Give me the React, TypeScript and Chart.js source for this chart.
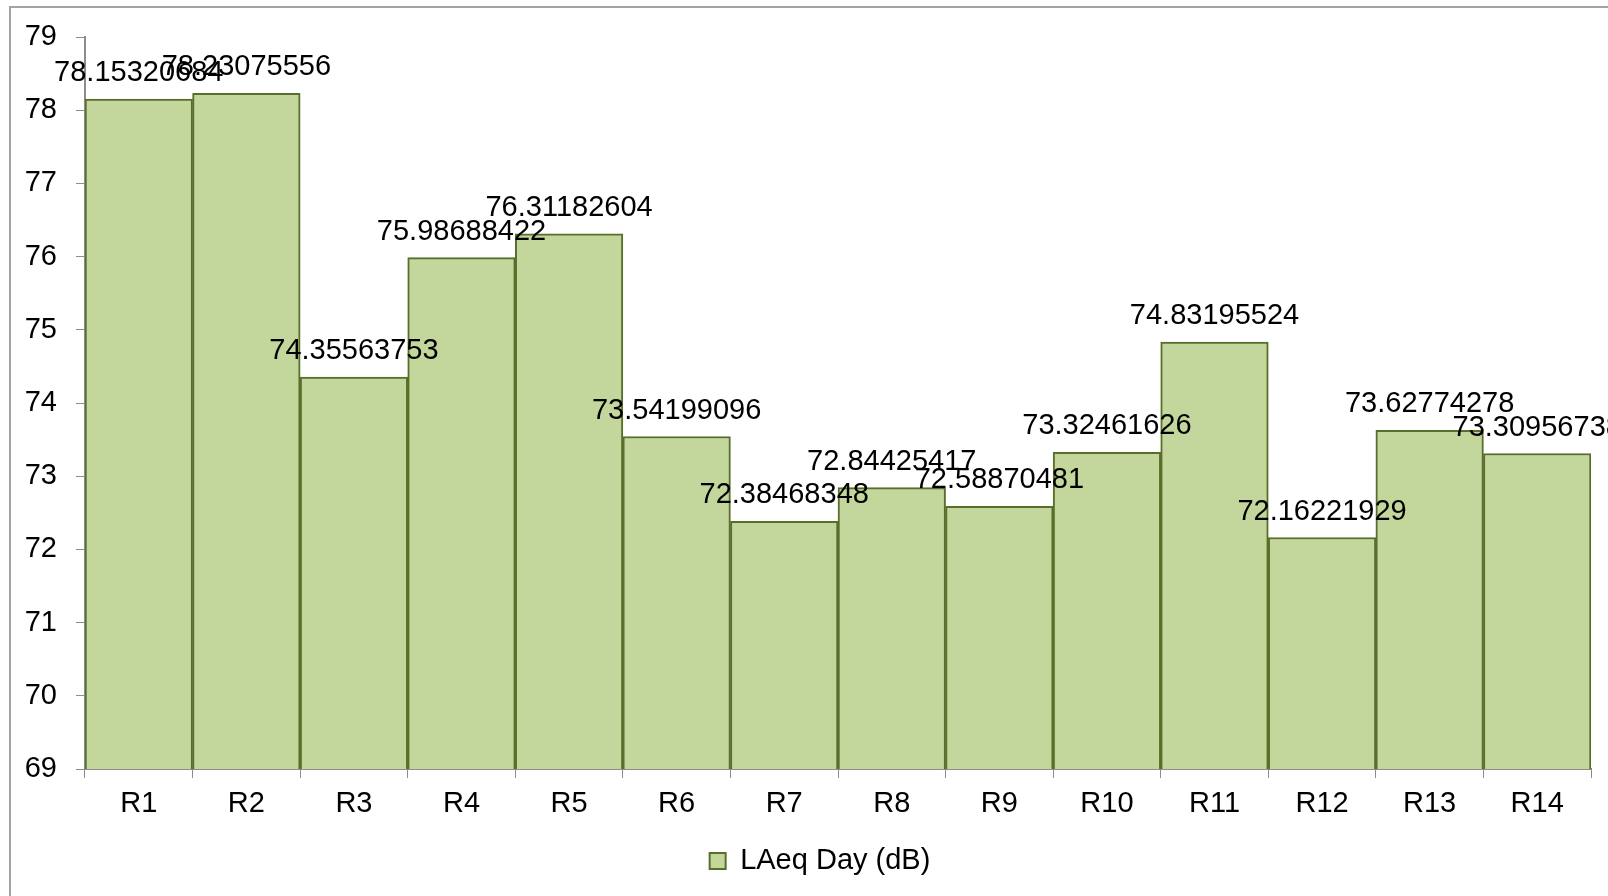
import React, { useEffect, useRef } from "react";
import { Chart, registerables } from "chart.js";

Chart.register(...registerables);

const categories = ["R1", "R2", "R3", "R4", "R5", "R6", "R7", "R8", "R9", "R10", "R11", "R12", "R13", "R14"];
const laeqDay = [
  78.15320684, 78.23075556, 74.35563753, 75.98688422, 76.31182604, 73.54199096, 72.38468348,
  72.84425417, 72.58870481, 73.32461626, 74.83195524, 72.16221929, 73.62774278, 73.30956738,
];
const seriesLabel = "LAeq Day (dB)";
const yMin = 69;
const yMax = 79;

const FONT = "'Liberation Sans', Arial, sans-serif";
const FS = 29;

const valueLabels = {
  id: "valueLabels",
  afterDatasetsDraw(chart: any) {
    const ctx = chart.ctx;
    const meta = chart.getDatasetMeta(0);
    ctx.save();
    ctx.font = `${FS}px ${FONT}`;
    ctx.fillStyle = "#000000";
    ctx.textAlign = "center";
    ctx.textBaseline = "alphabetic";
    meta.data.forEach((bar: any, i: number) => {
      const v = chart.data.datasets[0].data[i];
      ctx.fillText(String(v), bar.x, bar.y - 18);
    });
    ctx.restore();
  },
};

const legendShift = {
  id: "legendShift",
  afterLayout(chart: any) {
    if (chart.legend) {
      chart.legend.left = 0;
      chart.legend.right = 1640;
    }
  },
};

export default function App() {
  const ref = useRef<HTMLCanvasElement>(null);
  useEffect(() => {
    if (!ref.current) return;
    const chart = new Chart(ref.current, {
      type: "bar",
      data: {
        labels: categories,
        datasets: [
          {
            label: seriesLabel,
            data: laeqDay,
            backgroundColor: "#c3d69b",
            borderColor: "#5a6e2b",
            borderWidth: 2,
            barPercentage: 1,
            categoryPercentage: 1,
          },
        ],
      },
      options: {
        animation: false,
        responsive: false,
        devicePixelRatio: 1,
        layout: { padding: { top: 37, right: 17, left: 0, bottom: 10.5 } },
        plugins: {
          legend: {
            position: "bottom",
            labels: {
              font: { family: FONT, size: FS },
              color: "#000000",
              boxWidth: 16,
              boxHeight: 16,
              padding: 10,
            },
          },
          tooltip: { enabled: false },
        },
        scales: {
          x: {
            grid: {
              display: true,
              drawOnChartArea: false,
              drawTicks: true,
              tickLength: 9,
              color: "#8c8c8c",
              offset: true,
            },
            border: { display: true, color: "#8c8c8c", width: 2 },
            ticks: {
              font: { family: FONT, size: FS },
              color: "#000000",
              padding: 8.5,
              maxRotation: 0,
            },
            afterFit(scale: any) {
              scale.height = 67.5;
            },
          },
          y: {
            min: yMin,
            max: yMax,
            grid: {
              display: true,
              drawOnChartArea: false,
              drawTicks: true,
              tickLength: 9,
              color: "#8c8c8c",
            },
            border: { display: true, color: "#8c8c8c", width: 2 },
            ticks: {
              stepSize: 1,
              font: { family: FONT, size: FS },
              color: "#000000",
              padding: 19,
            },
            afterFit(scale: any) {
              scale.width = 85;
            },
          },
        },
      },
      plugins: [valueLabels, legendShift],
    });
    return () => chart.destroy();
  }, []);

  return (
    <div
      style={{
        position: "fixed",
        left: 0,
        top: 0,
        width: 1608,
        height: 896,
        overflow: "hidden",
        background: "#ffffff",
      }}
    >
      <div
        style={{
          position: "absolute",
          left: 9,
          top: 6,
          width: 1700,
          height: 1000,
          border: "2px solid #a3a3a3",
          boxSizing: "border-box",
        }}
      />
      <canvas
        ref={ref}
        width={1608}
        height={896}
        style={{ position: "absolute", left: 0, top: 0, width: 1608, height: 896 }}
      />
    </div>
  );
}
